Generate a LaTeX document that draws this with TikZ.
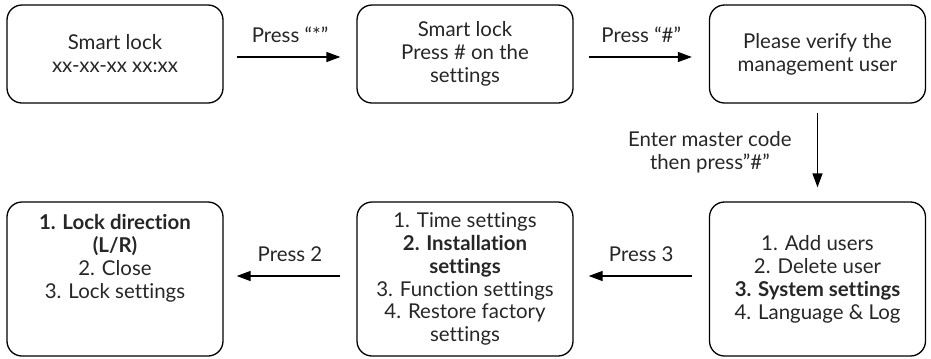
\documentclass[tikz,border=0pt]{standalone}
\usepackage{fontspec}
\setmainfont{Lato}[Ligatures=NoCommon]
\usetikzlibrary{arrows.meta}
\begin{document}
\begin{tikzpicture}[x=1bp,y=-1bp,
  box/.style={draw=black, line width=1.3bp, rounded corners=15bp, minimum width=216bp, align=center, inner sep=0pt},
  topbox/.style={box, minimum height=98bp},
  botbox/.style={box, minimum height=154bp},
  arr/.style={line width=1.3bp, -{Triangle[length=14bp,width=10bp]}},
  lbl/.style={align=center},
  every node/.style={font=\fontsize{20.5}{23}\selectfont, text=black!85}]
\useasboundingbox (0,0) rectangle (931,358);
\node[topbox] (b1) at (115,54) {Smart lock\\xx-xx-xx xx:xx};
\node[topbox] (b2) at (465,54) {Smart lock\\Press \# on the\\settings};
\node[topbox] (b3) at (817.5,54) {Please verify the\\management user};
\node[botbox] (b4) at (115,279) {\textbf{1. Lock direction}\\\textbf{(L/R)}\\2. Close\\3. Lock settings\\\mbox{}\\\mbox{}};
\node[botbox] (b5) at (465,279) {1. Time settings\\\textbf{2. Installation}\\\textbf{settings}\\3. Function settings\\4. Restore factory\\settings};
\node[botbox] (b6) at (817.5,279) {1. Add users\\2. Delete user\\\textbf{3. System settings}\\4. Language \& Log};
\draw[arr, shorten <=13bp, shorten >=16bp] ([yshift=-3bp]b1.east) -- node[lbl, above=10bp] (l1) {Press “*”} ([yshift=-3bp]b2.west);
\draw[arr, shorten <=15bp, shorten >=17bp] ([yshift=-3bp]b2.east) -- node[lbl, above=10bp] (l2) {Press “\#”} ([yshift=-3bp]b3.west);
\draw[arr, shorten <=9bp, shorten >=14bp] (b3.south) -- node[lbl, left=22bp] (l3) {Enter master code\\then press"\#"} (b6.north);
\draw[arr, shorten <=17bp, shorten >=15bp] ([yshift=3bp]b6.west) -- node[lbl, above=10bp] (l4) {Press 3} ([yshift=3bp]b5.east);
\draw[arr, shorten <=16bp, shorten >=13bp] ([yshift=3bp]b5.west) -- node[lbl, above=10bp] (l5) {Press 2} ([yshift=3bp]b4.east);
\end{tikzpicture}
\end{document}
